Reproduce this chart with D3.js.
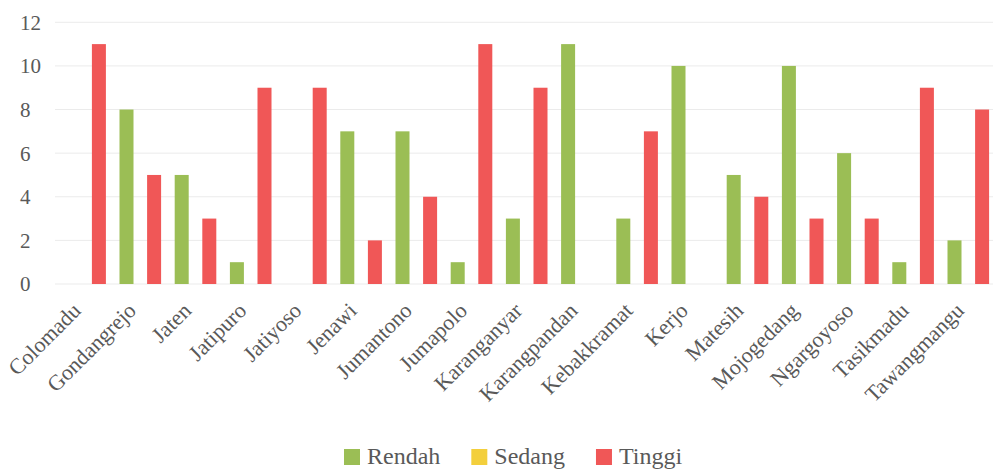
<!DOCTYPE html>
<html>
<head>
<meta charset="utf-8">
<script src="https://cdn.jsdelivr.net/npm/d3@7"></script>
<style>
  html, body { margin: 0; padding: 0; background: #ffffff; }
  svg { display: block; }
</style>
</head>
<body>
<svg id="chart" width="993" height="469"></svg>
<script>
const categories = ["Colomadu", "Gondangrejo", "Jaten", "Jatipuro", "Jatiyoso", "Jenawi", "Jumantono", "Jumapolo", "Karanganyar", "Karangpandan", "Kebakkramat", "Kerjo", "Matesih", "Mojogedang", "Ngargoyoso", "Tasikmadu", "Tawangmangu"];
const seriesNames = ["Rendah", "Sedang", "Tinggi"];
const rendah = [0, 8, 5, 1, 0, 7, 7, 1, 3, 11, 3, 10, 5, 10, 6, 1, 2];
const sedang = [0, 0, 0, 0, 0, 0, 0, 0, 0, 0, 0, 0, 0, 0, 0, 0, 0];
const tinggi = [11, 5, 3, 9, 9, 2, 4, 11, 9, 0, 7, 0, 4, 3, 3, 9, 8];
const yTicks = [0, 2, 4, 6, 8, 10, 12];
const colors = ["#9bbe55", "#f3cf3c", "#f05757"];

const FONT = "'Liberation Serif', 'Times New Roman', serif";
const seriesValues = [rendah, sedang, tinggi];
const svg = d3.select("#chart");

const plotLeft = 57.5, plotRight = 995.9, plotTop = 22.3, plotBottom = 284;

const x0 = d3.scaleBand().domain(categories).range([plotLeft, plotRight]).paddingInner(0).paddingOuter(0);
const x1 = d3.scalePoint().domain(seriesNames).range([-x0.bandwidth() / 4, x0.bandwidth() / 4]);
const y = d3.scaleLinear().domain([0, 12]).range([plotBottom, plotTop]);
const barW = 14;

// gridlines
svg.append("g").selectAll("line").data(yTicks).join("line")
  .attr("x1", 55).attr("x2", 993)
  .attr("y1", d => y(d)).attr("y2", d => y(d))
  .attr("stroke", "#ebebeb").attr("stroke-width", 1);

// y tick labels
svg.append("g").selectAll("text").data(yTicks).join("text")
  .attr("x", 20).attr("y", d => y(d))
  .attr("dy", "0.35em")
  .attr("text-anchor", "start")
  .style("font-family", FONT)
  .style("font-size", "21px")
  .attr("fill", "#595959")
  .text(d => d);

// bars
const flat = [];
categories.forEach((c, i) => {
  seriesNames.forEach((s, j) => {
    flat.push({ cat: c, series: s, value: seriesValues[j][i], color: colors[j] });
  });
});
svg.append("g").selectAll("rect").data(flat.filter(d => d.value > 0)).join("rect")
  .attr("x", d => x0(d.cat) + x0.bandwidth() / 2 + x1(d.series) - barW / 2)
  .attr("y", d => y(d.value))
  .attr("width", barW)
  .attr("height", d => y(0) - y(d.value))
  .attr("fill", d => d.color);

// x labels
svg.append("g").selectAll("text").data(categories).join("text")
  .attr("transform", d => `translate(${x0(d) + x0.bandwidth() / 2 - 3},${312}) rotate(-45)`)
  .attr("text-anchor", "end")
  .style("font-family", FONT)
  .style("font-size", "22px")
  .attr("fill", "#595959")
  .text(d => d);

// legend
const legend = svg.append("g");
let lx = 344;
seriesNames.forEach((s, j) => {
  legend.append("rect").attr("x", lx).attr("y", 449).attr("width", 16).attr("height", 16).attr("fill", colors[j]);
  const t = legend.append("text")
    .attr("x", lx + 23).attr("y", 464)
    .style("font-family", FONT)
    .style("font-size", "24px")
    .attr("fill", "#595959")
    .text(s);
  lx = lx + 23 + t.node().getComputedTextLength() + 31;
});
</script>
</body>
</html>
